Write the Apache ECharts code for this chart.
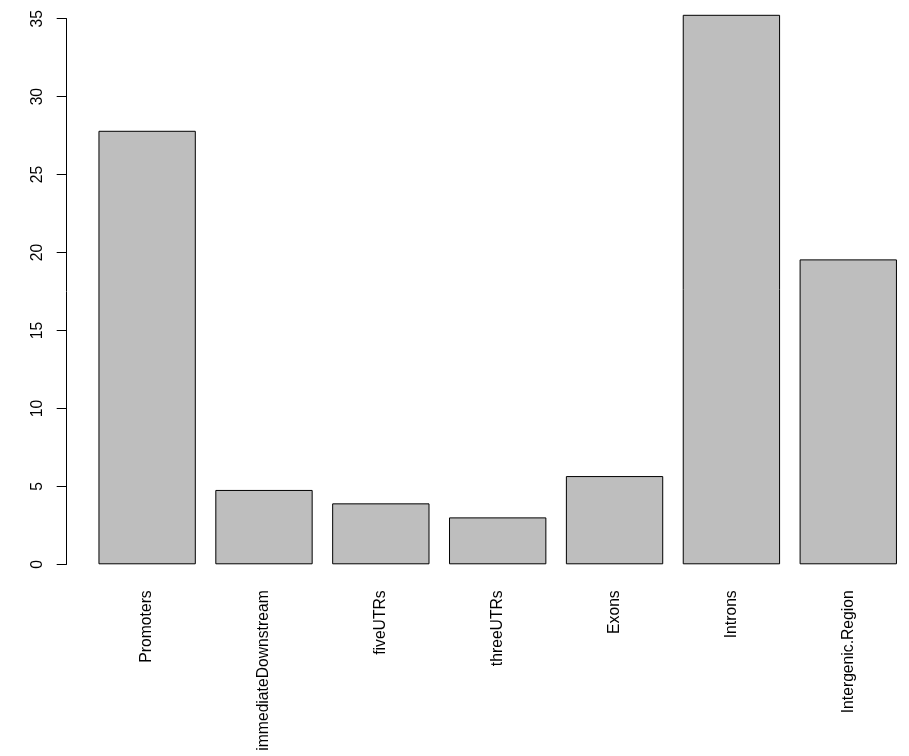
<!DOCTYPE html>
<html>
<head>
<meta charset="utf-8">
<script src="https://cdn.jsdelivr.net/npm/echarts@6/dist/echarts.min.js"></script>
<style>
html,body{margin:0;padding:0;background:#fff;}
#chart{width:909px;height:756px;}
</style>
</head>
<body>
<div id="chart"></div>
<script>
var categories = ["Promoters","immediateDownstream","fiveUTRs","threeUTRs","Exons","Introns","Intergenic.Region"];
var values = [27.81, 4.77, 3.91, 3.01, 5.66, 35.25, 19.56];
var yTicks = [0, 5, 10, 15, 20, 25, 30, 35];

var chart = echarts.init(document.getElementById('chart'), null, {renderer:'canvas'});
var font = '"Liberation Sans", Arial, Helvetica, sans-serif';
chart.setOption({
  animation: false,
  backgroundColor: '#ffffff',
  grid: {left: 88.7, right: 2.3, top: 18.7, bottom: 191.7, containLabel: false},
  xAxis: {
    type: 'category',
    data: categories,
    axisLine: {show: false},
    axisTick: {show: false},
    axisLabel: {rotate: 90, margin: 26, fontSize: 15.7, color: '#000', fontFamily: font, interval: 0}
  },
  yAxis: {
    type: 'value',
    min: yTicks[0],
    max: yTicks[yTicks.length - 1],
    interval: 5,
    offset: 22,
    splitLine: {show: false},
    axisLine: {show: true, lineStyle: {color: '#000', width: 1}},
    axisTick: {show: true, length: 10, lineStyle: {color: '#000', width: 1}},
    axisLabel: {rotate: 90, margin: 21, fontSize: 15.7, color: '#000', fontFamily: font}
  },
  series: [{
    type: 'bar',
    data: values,
    clip: false,
    barCategoryGap: '16.7%',
    itemStyle: {color: '#BEBEBE', borderColor: '#000', borderWidth: 1}
  }]
});
</script>
</body>
</html>
